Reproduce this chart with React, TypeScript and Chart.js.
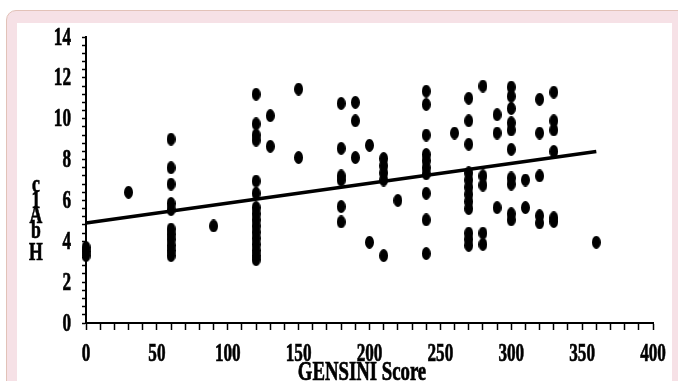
import React, { useEffect, useRef } from "react";
import { Chart, registerables } from "chart.js";

Chart.register(...registerables);

// GENSINI score columns and HbA1c values
const gensiniColumns = [0, 30, 60, 90, 120, 130, 150, 180, 190, 200, 210, 220, 240, 260, 270, 280, 290, 300, 310, 320, 330, 360];
const hba1cColumns: number[][] = [
  [3.7, 3.5, 3.3],
  [6.4],
  [9.0, 7.6, 6.8, 5.85, 5.55, 4.6, 4.35, 4.1, 3.8, 3.55, 3.3],
  [4.75],
  [11.2, 9.75, 9.2, 8.95, 6.95, 6.35, 5.65, 5.35, 5.05, 4.75, 4.45, 4.15, 3.85, 3.55, 3.3, 3.1],
  [10.15, 8.65],
  [11.45, 8.1],
  [10.75, 8.55, 7.2, 7.0, 5.7, 4.95],
  [10.8, 9.9, 8.1],
  [8.7, 3.95],
  [8.05, 7.7, 7.35, 7.0, 3.3],
  [6.0],
  [11.35, 10.7, 9.2, 8.25, 7.95, 7.6, 7.3, 6.35, 5.05, 3.4],
  [9.3],
  [11.0, 9.9, 8.75, 7.35, 7.0, 6.65, 6.3, 5.95, 5.6, 4.4, 4.1, 3.8],
  [11.6, 7.2, 6.75, 4.4, 3.85],
  [10.2, 9.3, 5.65],
  [11.55, 11.1, 10.5, 9.8, 9.45, 8.5, 7.1, 6.8, 5.35, 5.05],
  [7.0, 5.65],
  [10.95, 9.3, 7.2, 5.25, 4.9],
  [11.3, 9.9, 9.45, 8.4, 5.15, 4.97],
  [3.95],
];

// Regression line end points
const trendX = [0, 360];
const trendY = [4.9, 8.4];

// Axes
const xTickLabels = [0, 50, 100, 150, 200, 250, 300, 350, 400];
const yTickLabels = [0, 2, 4, 6, 8, 10, 12, 14];
const xMinorStep = 10;
const yMinorStep = 0.4;
const xTitle = "GENSINI Score";
const yTitleLetters = ["c", "1", "A", "b", "H"];

const FONT = '"Liberation Serif", "Times New Roman", serif';

function makeDot(): HTMLCanvasElement {
  const c = document.createElement("canvas");
  c.width = 9;
  c.height = 13;
  const g = c.getContext("2d")!;
  g.fillStyle = "#000";
  g.beginPath();
  g.ellipse(4.5, 6.5, 4.5, 6.5, 0, 0, Math.PI * 2);
  g.fill();
  return c;
}

function drawCondensed(ctx: CanvasRenderingContext2D, text: string, x: number, y: number, align: CanvasTextAlign, sx: number) {
  ctx.save();
  ctx.translate(x, y);
  ctx.scale(sx, 1);
  ctx.textAlign = align;
  ctx.textBaseline = "alphabetic";
  ctx.fillText(text, 0, 0);
  ctx.lineWidth = 0.7;
  ctx.strokeText(text, 0, 0);
  ctx.restore();
}

const textPlugin = {
  id: "condensedText",
  afterDraw(chart: any) {
    const ctx: CanvasRenderingContext2D = chart.ctx;
    const xs = chart.scales.x;
    const ys = chart.scales.y;
    ctx.save();
    ctx.fillStyle = "#000";
    ctx.strokeStyle = "#000";
    ctx.font = `bold 26px ${FONT}`;
    yTickLabels.forEach((v) => {
      drawCondensed(ctx, String(v), 71, ys.getPixelForValue(v) + 7.5, "right", 0.66);
    });
    xTickLabels.forEach((v) => {
      drawCondensed(ctx, String(v), xs.getPixelForValue(v), 360.5, "center", 0.66);
    });
    const yBaselines = [192, 208, 223, 238, 260];
    yTitleLetters.forEach((ch, i) => {
      drawCondensed(ctx, ch, 36, yBaselines[i], "center", 0.68);
    });
    ctx.font = `bold 28px ${FONT}`;
    drawCondensed(ctx, xTitle, 362, 380, "center", 0.67);
    ctx.restore();
  },
};

export default function App() {
  const ref = useRef<HTMLCanvasElement>(null);

  useEffect(() => {
    if (!ref.current) return;
    const dot = makeDot();
    const points: { x: number; y: number }[] = [];
    gensiniColumns.forEach((gx, i) => {
      hba1cColumns[i].forEach((v) => points.push({ x: gx, y: v }));
    });
    const trend = trendX.map((x, i) => ({ x, y: trendY[i] }));

    const xMinor: number[] = [];
    for (let i = 0; i <= Math.round(400 / xMinorStep); i++) xMinor.push(i * xMinorStep);
    const yMinor: number[] = [];
    for (let i = 0; i <= Math.round(14 / yMinorStep); i++) yMinor.push(+(i * yMinorStep).toFixed(4));

    const chart = new Chart(ref.current, {
      type: "scatter",
      data: {
        datasets: [
          {
            type: "line",
            data: trend,
            borderColor: "#000",
            borderWidth: 3.5,
            pointRadius: 0,
            fill: false,
            clip: false,
          } as any,
          {
            data: points,
            pointStyle: dot as any,
            pointRadius: 5,
            backgroundColor: "#000",
            borderColor: "#000",
            clip: false,
          } as any,
        ],
      },
      options: {
        responsive: false,
        animation: false,
        events: [],
        layout: { padding: { top: 37, right: 25, left: 0, bottom: 0 } },
        plugins: { legend: { display: false }, tooltip: { enabled: false } },
        scales: {
          x: {
            type: "linear",
            min: 0,
            max: 400,
            afterBuildTicks: (s: any) => {
              s.ticks = xMinor.map((v) => ({ value: v }));
            },
            afterFit: (s: any) => {
              s.height = 58;
            },
            grid: { drawOnChartArea: false, drawTicks: true, tickLength: 7, tickColor: "#000", tickWidth: 1.5 },
            border: { display: true, color: "#000", width: 2 },
            ticks: { font: { size: 1 }, color: "rgba(0,0,0,0)", autoSkip: false, maxRotation: 0, padding: 0 },
          },
          y: {
            type: "linear",
            min: 0,
            max: 14,
            afterBuildTicks: (s: any) => {
              s.ticks = yMinor.map((v) => ({ value: v }));
            },
            afterFit: (s: any) => {
              s.width = 86;
            },
            grid: { drawOnChartArea: false, drawTicks: true, tickLength: 4, tickColor: "#000", tickWidth: 1.5 },
            border: { display: true, color: "#000", width: 2 },
            ticks: { font: { size: 1 }, color: "rgba(0,0,0,0)", autoSkip: false, padding: 0 },
          },
        },
      },
      plugins: [textPlugin],
    } as any);
    return () => chart.destroy();
  }, []);

  return (
    <div style={{ position: "fixed", left: 0, top: 0, width: 678, height: 381, overflow: "hidden", background: "#fff" }}>
      <div
        style={{
          position: "absolute",
          left: 6,
          top: 10,
          width: 700,
          height: 420,
          background: "#f6e1e6",
          border: "1px solid #e2c2b8",
          borderRadius: 10,
          boxSizing: "border-box",
        }}
      />
      <div style={{ position: "absolute", left: 17, top: 23, width: 655, height: 400, background: "#fff" }} />
      <canvas ref={ref} width={678} height={381} style={{ position: "absolute", left: 0, top: 0 }} />
    </div>
  );
}
